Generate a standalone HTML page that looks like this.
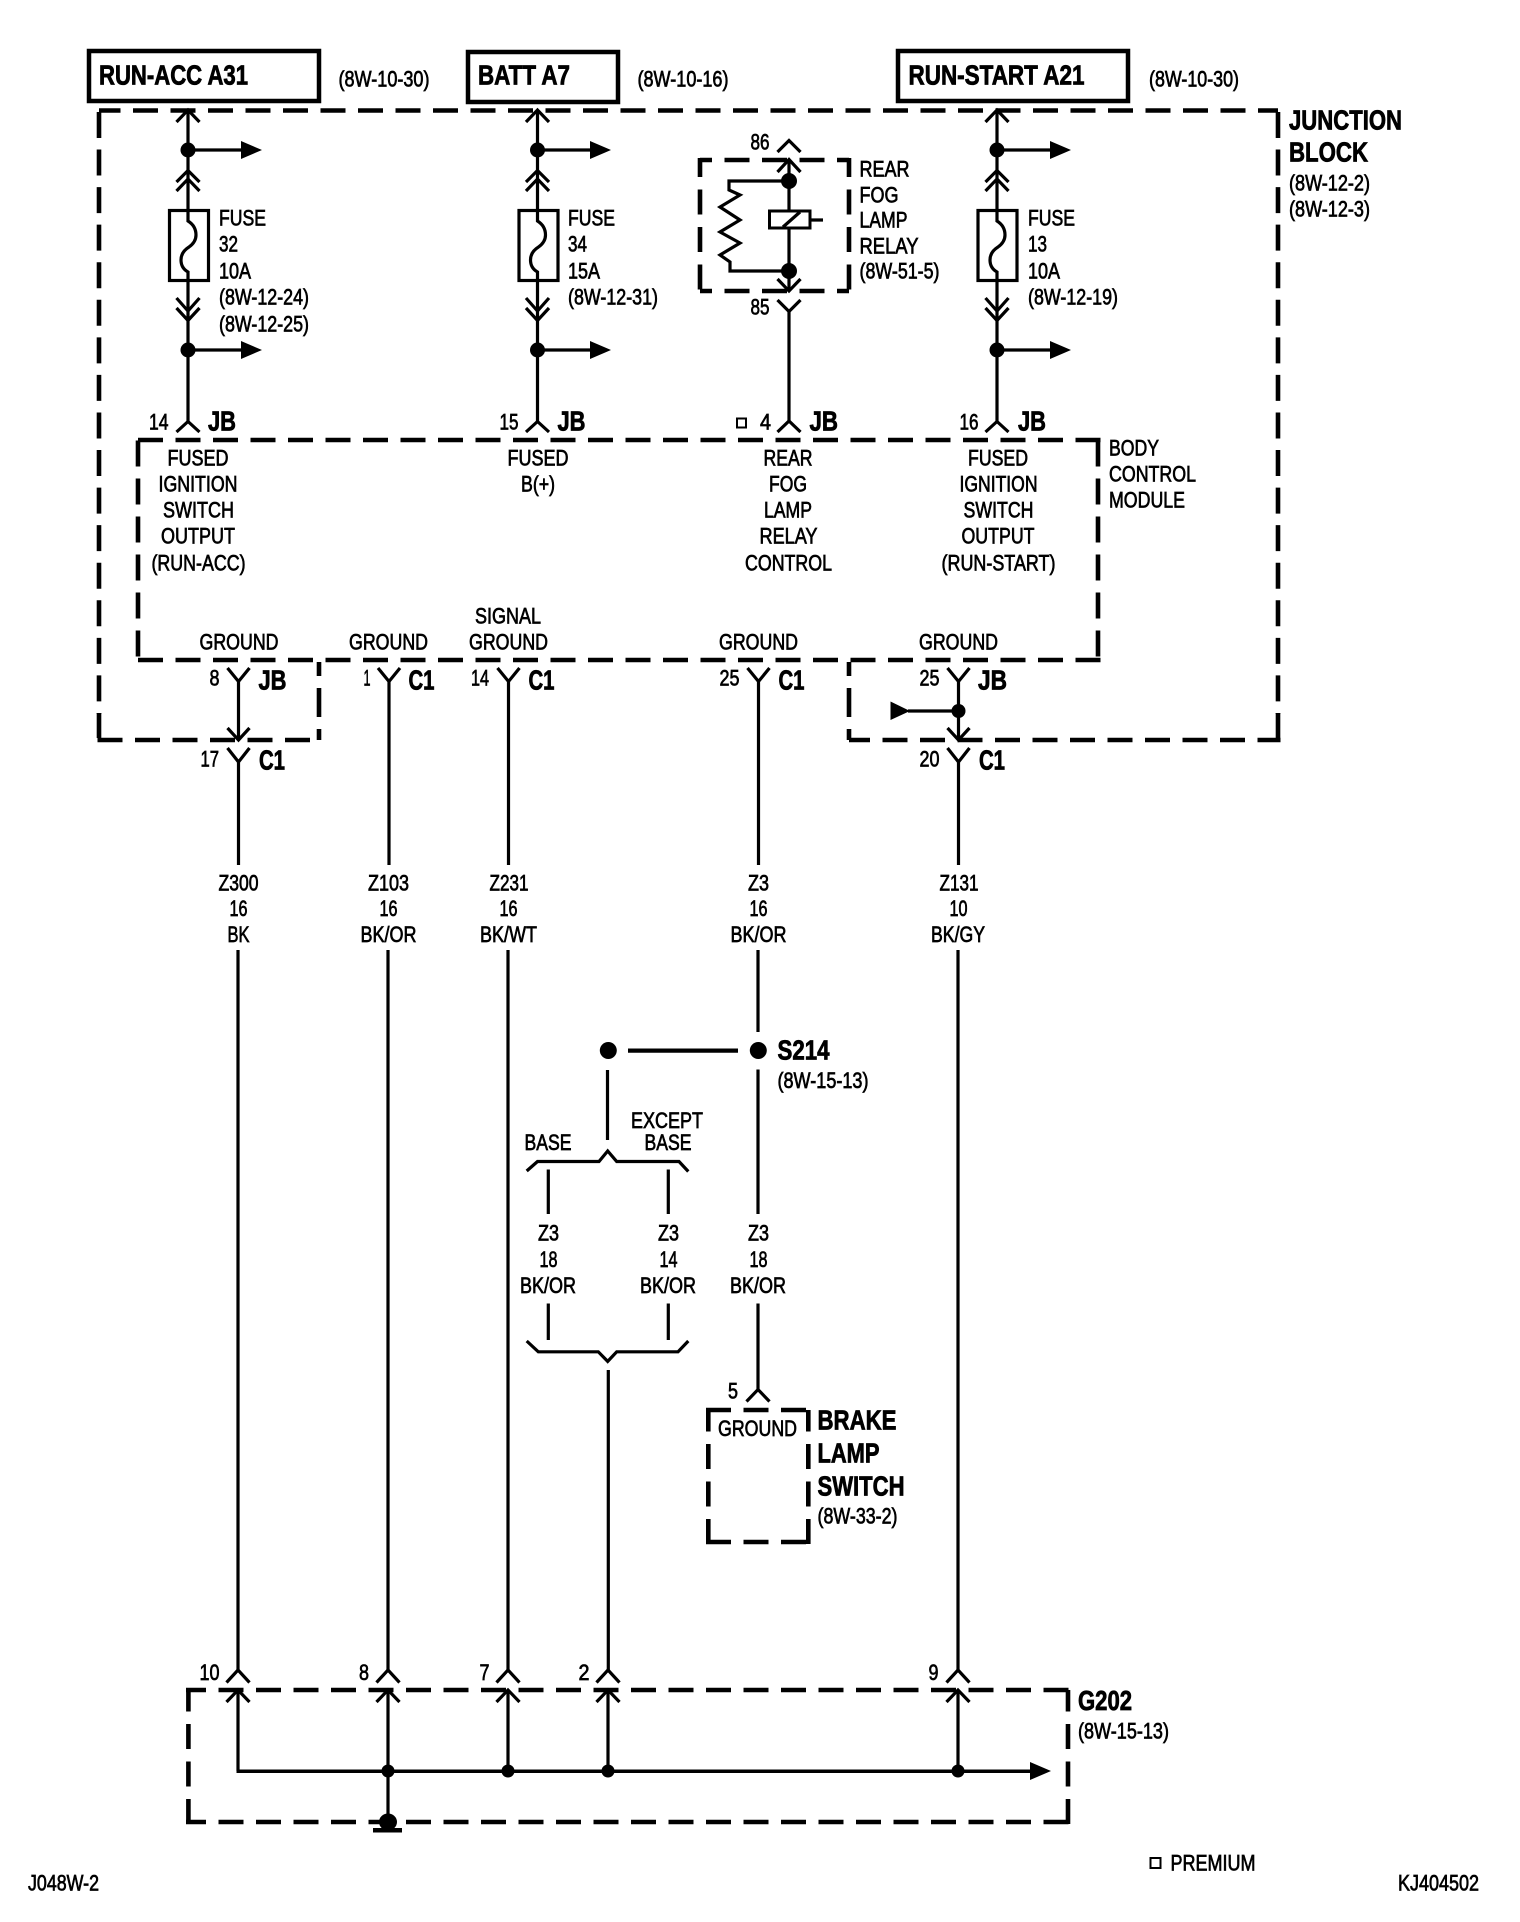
<!DOCTYPE html>
<html><head><meta charset="utf-8"><title>Wiring diagram</title>
<style>
html,body{margin:0;padding:0;background:#fff}
svg{display:block}
text{font-family:"Liberation Sans",sans-serif;font-size:22px;fill:#000;stroke:#000;stroke-width:.7px;transform:translateY(-.5px)}
text.b{font-weight:bold;font-size:28px;stroke-width:.8px}
.w{fill:none;stroke:#000;stroke-width:3.2}
.d{fill:none;stroke:#000;stroke-width:4.6;stroke-dasharray:25 12.5;stroke-linejoin:miter}
.r{fill:none;stroke:#000;stroke-width:4.5}
</style></head><body>
<svg width="1520" height="1922" viewBox="0 0 1520 1922" xmlns="http://www.w3.org/2000/svg">
<rect width="1520" height="1922" fill="#fff"/>

<!-- top boxes -->
<rect class="r" x="89" y="51" width="230" height="50"/>
<rect class="r" x="468" y="52" width="150" height="50"/>
<rect class="r" x="898" y="51" width="230" height="50"/>
<text class="b" x="99" y="85" textLength="149" lengthAdjust="spacingAndGlyphs">RUN-ACC A31</text>
<text class="b" x="478" y="85" textLength="92" lengthAdjust="spacingAndGlyphs">BATT A7</text>
<text class="b" x="908.5" y="85" textLength="176" lengthAdjust="spacingAndGlyphs">RUN-START A21</text>
<text x="338.5" y="87" textLength="91" lengthAdjust="spacingAndGlyphs">(8W-10-30)</text>
<text x="637.5" y="87" textLength="91" lengthAdjust="spacingAndGlyphs">(8W-10-16)</text>
<text x="1149" y="87" textLength="90" lengthAdjust="spacingAndGlyphs">(8W-10-30)</text>

<!-- junction block dashed outline -->
<path class="d" style="stroke-dashoffset:3.5" d="M99 110.5H1278"/>
<path class="d" style="stroke-dasharray:26 11.56" d="M99 112V714"/>
<path class="d" style="stroke-dasharray:26 11.56" d="M1278 112V714"/>
<path class="d" style="stroke-dashoffset:-1" d="M96.5 740H319"/>
<path class="d" style="stroke-dashoffset:4" d="M849 740H1280.5"/>
<path class="d" d="M99 713V740M1278 713V740"/>
<path class="d" style="stroke-dasharray:14 12 29 12" d="M319 662V740"/>
<path class="d" style="stroke-dasharray:14 12 29 12" d="M849 662V740"/>

<!-- BCM dashed outline -->
<path class="d" d="M138 440H1100.5"/>
<path class="d" d="M138 660H1100.5"/>
<path class="d" style="stroke-dasharray:26 12;stroke-dashoffset:-3" d="M138 437.5V662"/>
<path class="d" style="stroke-dasharray:26 12;stroke-dashoffset:-3" d="M1098 437.5V662"/>

<!-- column A -->
<g id="colA">
<path class="w" d="M188 110V210M188 281V422"/>
<path class="w" d="M176.5 122L188 110L199.5 122"/>
<path class="w" d="M176.5 182L188 170.5L199.5 182M176.5 191L188 179L199.5 191"/>
<path class="w" d="M176.5 298L188 311L199.5 298M176.5 308L188 320.5L199.5 308"/>
<path class="w" d="M176.5 432L188 421.5L199.5 432"/>
<circle cx="188" cy="150" r="7.5"/><circle cx="188" cy="350" r="7.5"/>
<path class="w" d="M188 150H242M188 350H242"/>
<path d="M241 141L262 150L241 159ZM241 341L262 350L241 359Z"/>
<rect class="w" x="169.5" y="210.5" width="39" height="70"/>
<path class="w" d="M188 210V221q8 5 8 14q0 7 -7 12q-8 5 -8 13q0 8 7 12V281"/>
</g>
<!-- column B -->
<g>
<path class="w" d="M537.5 110V210M537.5 281V422"/>
<path class="w" d="M526 122L537.5 110L549 122"/>
<path class="w" d="M526 182L537.5 170.5L549 182M526 191L537.5 179L549 191"/>
<path class="w" d="M526 298L537.5 311L549 298M526 308L537.5 320.5L549 308"/>
<path class="w" d="M526 432L537.5 421.5L549 432"/>
<circle cx="537.5" cy="150" r="7.5"/><circle cx="537.5" cy="350" r="7.5"/>
<path class="w" d="M537.5 150H591M537.5 350H591"/>
<path d="M590 141L611 150L590 159ZM590 341L611 350L590 359Z"/>
<rect class="w" x="519" y="210.5" width="39" height="70"/>
<path class="w" d="M537.5 210V221q8 5 8 14q0 7 -7 12q-8 5 -8 13q0 8 7 12V281"/>
</g>
<!-- column D -->
<g>
<path class="w" d="M997 110V210M997 281V422"/>
<path class="w" d="M985.5 122L997 110L1008.5 122"/>
<path class="w" d="M985.5 182L997 170.5L1008.5 182M985.5 191L997 179L1008.5 191"/>
<path class="w" d="M985.5 298L997 311L1008.5 298M985.5 308L997 320.5L1008.5 308"/>
<path class="w" d="M985.5 432L997 421.5L1008.5 432"/>
<circle cx="997" cy="150" r="7.5"/><circle cx="997" cy="350" r="7.5"/>
<path class="w" d="M997 150H1051M997 350H1051"/>
<path d="M1050 141L1071 150L1050 159ZM1050 341L1071 350L1050 359Z"/>
<rect class="w" x="978" y="210.5" width="39" height="70"/>
<path class="w" d="M997 210V221q8 5 8 14q0 7 -7 12q-8 5 -8 13q0 8 7 12V281"/>
</g>

<!-- fuse labels -->
<text x="219" y="226" textLength="47" lengthAdjust="spacingAndGlyphs">FUSE</text>
<text x="219" y="252" textLength="19" lengthAdjust="spacingAndGlyphs">32</text>
<text x="219" y="279" textLength="32" lengthAdjust="spacingAndGlyphs">10A</text>
<text x="219" y="305" textLength="90" lengthAdjust="spacingAndGlyphs">(8W-12-24)</text>
<text x="219" y="332" textLength="90" lengthAdjust="spacingAndGlyphs">(8W-12-25)</text>
<text x="568" y="226" textLength="47" lengthAdjust="spacingAndGlyphs">FUSE</text>
<text x="568" y="252" textLength="19" lengthAdjust="spacingAndGlyphs">34</text>
<text x="568" y="279" textLength="32" lengthAdjust="spacingAndGlyphs">15A</text>
<text x="568" y="305" textLength="90" lengthAdjust="spacingAndGlyphs">(8W-12-31)</text>
<text x="1028" y="226" textLength="47" lengthAdjust="spacingAndGlyphs">FUSE</text>
<text x="1028" y="252" textLength="19" lengthAdjust="spacingAndGlyphs">13</text>
<text x="1028" y="279" textLength="32" lengthAdjust="spacingAndGlyphs">10A</text>
<text x="1028" y="305" textLength="90" lengthAdjust="spacingAndGlyphs">(8W-12-19)</text>

<!-- relay -->
<path class="d" style="stroke-dashoffset:13" d="M700 160H849"/>
<path class="d" style="stroke-dashoffset:13" d="M700 291H849"/>
<path class="d" style="stroke-dashoffset:6" d="M700 158V293"/>
<path class="d" style="stroke-dashoffset:6" d="M849 158V293"/>
<path class="w" d="M777.5 152L789 140.5L800.5 152"/>
<path class="w" d="M777.5 172L789 159.5L800.5 172"/>
<path class="w" d="M789 160V290"/>
<path class="w" d="M777.5 279L789 291L800.5 279"/>
<path class="w" d="M777.5 300L789 311.5L800.5 300"/>
<path class="w" d="M789 311V422"/>
<path class="w" d="M777.5 432L789 421L800.5 432"/>
<circle cx="789" cy="181" r="8"/><circle cx="789" cy="271" r="8"/>
<path class="w" d="M789 181H729V190L740 195L720 207L740 220L720 232L740 243L720 255L730 262V271H789"/>
<rect x="769.5" y="211" width="40.5" height="17" fill="#fff" stroke="#000" stroke-width="3"/>
<path class="w" d="M783 227L800 212M810 220H823"/>
<text x="750.5" y="150" textLength="19" lengthAdjust="spacingAndGlyphs">86</text>
<text x="750.5" y="315" textLength="19" lengthAdjust="spacingAndGlyphs">85</text>
<text x="859.5" y="177" textLength="50" lengthAdjust="spacingAndGlyphs">REAR</text>
<text x="859.5" y="203" textLength="39" lengthAdjust="spacingAndGlyphs">FOG</text>
<text x="859.5" y="228" textLength="48" lengthAdjust="spacingAndGlyphs">LAMP</text>
<text x="859.5" y="254" textLength="59" lengthAdjust="spacingAndGlyphs">RELAY</text>
<text x="859.5" y="279" textLength="80" lengthAdjust="spacingAndGlyphs">(8W-51-5)</text>

<!-- junction block label -->
<text class="b" x="1289" y="130" textLength="113" lengthAdjust="spacingAndGlyphs">JUNCTION</text>
<text class="b" x="1289" y="162" textLength="79" lengthAdjust="spacingAndGlyphs">BLOCK</text>
<text x="1289" y="191" textLength="81" lengthAdjust="spacingAndGlyphs">(8W-12-2)</text>
<text x="1289" y="217" textLength="81" lengthAdjust="spacingAndGlyphs">(8W-12-3)</text>

<!-- JB pin labels -->
<text x="149" y="430" textLength="19.5" lengthAdjust="spacingAndGlyphs">14</text>
<text class="b" x="208" y="431" textLength="28" lengthAdjust="spacingAndGlyphs">JB</text>
<text x="499.5" y="430" textLength="19" lengthAdjust="spacingAndGlyphs">15</text>
<text class="b" x="557.5" y="431" textLength="28" lengthAdjust="spacingAndGlyphs">JB</text>
<rect x="737" y="418.5" width="9" height="9" fill="#fff" stroke="#000" stroke-width="2"/>
<text x="760" y="430" textLength="11" lengthAdjust="spacingAndGlyphs">4</text>
<text class="b" x="809.5" y="431" textLength="28.5" lengthAdjust="spacingAndGlyphs">JB</text>
<text x="959.5" y="430" textLength="19" lengthAdjust="spacingAndGlyphs">16</text>
<text class="b" x="1018" y="431" textLength="28" lengthAdjust="spacingAndGlyphs">JB</text>

<!-- BCM labels -->
<text x="167.5" y="466" textLength="61" lengthAdjust="spacingAndGlyphs">FUSED</text>
<text x="158.5" y="492" textLength="79" lengthAdjust="spacingAndGlyphs">IGNITION</text>
<text x="163" y="518" textLength="71" lengthAdjust="spacingAndGlyphs">SWITCH</text>
<text x="161" y="544" textLength="74" lengthAdjust="spacingAndGlyphs">OUTPUT</text>
<text x="151.5" y="571" textLength="94" lengthAdjust="spacingAndGlyphs">(RUN-ACC)</text>
<text x="507.5" y="466" textLength="61" lengthAdjust="spacingAndGlyphs">FUSED</text>
<text x="521" y="492" textLength="34" lengthAdjust="spacingAndGlyphs">B(+)</text>
<text x="763.5" y="466" textLength="49" lengthAdjust="spacingAndGlyphs">REAR</text>
<text x="769" y="492" textLength="38" lengthAdjust="spacingAndGlyphs">FOG</text>
<text x="764" y="518" textLength="48" lengthAdjust="spacingAndGlyphs">LAMP</text>
<text x="759.5" y="544" textLength="58" lengthAdjust="spacingAndGlyphs">RELAY</text>
<text x="745" y="571" textLength="87" lengthAdjust="spacingAndGlyphs">CONTROL</text>
<text x="968" y="466" textLength="60" lengthAdjust="spacingAndGlyphs">FUSED</text>
<text x="959.5" y="492" textLength="78" lengthAdjust="spacingAndGlyphs">IGNITION</text>
<text x="963.5" y="518" textLength="70" lengthAdjust="spacingAndGlyphs">SWITCH</text>
<text x="961.5" y="544" textLength="73" lengthAdjust="spacingAndGlyphs">OUTPUT</text>
<text x="941.5" y="571" textLength="114" lengthAdjust="spacingAndGlyphs">(RUN-START)</text>
<text x="1109" y="456" textLength="50" lengthAdjust="spacingAndGlyphs">BODY</text>
<text x="1109" y="482" textLength="87" lengthAdjust="spacingAndGlyphs">CONTROL</text>
<text x="1109" y="508" textLength="76" lengthAdjust="spacingAndGlyphs">MODULE</text>
<text x="199.5" y="650" textLength="79" lengthAdjust="spacingAndGlyphs">GROUND</text>
<text x="349" y="650" textLength="79" lengthAdjust="spacingAndGlyphs">GROUND</text>
<text x="475" y="624" textLength="66" lengthAdjust="spacingAndGlyphs">SIGNAL</text>
<text x="469" y="650" textLength="79" lengthAdjust="spacingAndGlyphs">GROUND</text>
<text x="719" y="650" textLength="79" lengthAdjust="spacingAndGlyphs">GROUND</text>
<text x="919" y="650" textLength="79" lengthAdjust="spacingAndGlyphs">GROUND</text>

<!-- lower connectors -->
<path class="w" d="M227.5 668L238.5 681.5L249.5 668M227.5 728L238.5 740L249.5 728M227.5 748L238.5 762L249.5 748M238.5 681V740M238.5 762V865"/>
<path class="w" d="M378 668L389 681.5L400 668M389 681V865"/>
<path class="w" d="M497.5 668L508.5 681.5L519.5 668M508.5 681V865"/>
<path class="w" d="M747.5 668L758.5 681.5L769.5 668M758.5 681V865"/>
<path class="w" d="M947.5 668L958.5 681.5L969.5 668M947.5 728L958.5 740L969.5 728M947.5 748L958.5 762L969.5 748M958.5 681V740M958.5 762V865"/>
<circle cx="958.5" cy="711" r="7"/>
<path class="w" d="M908 711H958"/>
<path d="M890.5 701.5L910 711L890.5 720Z"/>

<text x="209.5" y="686" textLength="10" lengthAdjust="spacingAndGlyphs">8</text>
<text class="b" x="258.5" y="690" textLength="28" lengthAdjust="spacingAndGlyphs">JB</text>
<text x="363.5" y="686" textLength="7" lengthAdjust="spacingAndGlyphs">1</text>
<text class="b" x="408.5" y="690" textLength="26" lengthAdjust="spacingAndGlyphs">C1</text>
<text x="471" y="686" textLength="18" lengthAdjust="spacingAndGlyphs">14</text>
<text class="b" x="528.5" y="690" textLength="26" lengthAdjust="spacingAndGlyphs">C1</text>
<text x="719.5" y="686" textLength="20" lengthAdjust="spacingAndGlyphs">25</text>
<text class="b" x="778.5" y="690" textLength="26" lengthAdjust="spacingAndGlyphs">C1</text>
<text x="919.5" y="686" textLength="20" lengthAdjust="spacingAndGlyphs">25</text>
<text class="b" x="978" y="690" textLength="29" lengthAdjust="spacingAndGlyphs">JB</text>
<text x="200.5" y="767" textLength="18.5" lengthAdjust="spacingAndGlyphs">17</text>
<text class="b" x="259" y="770" textLength="26" lengthAdjust="spacingAndGlyphs">C1</text>
<text x="919.5" y="767" textLength="20" lengthAdjust="spacingAndGlyphs">20</text>
<text class="b" x="979" y="770" textLength="26" lengthAdjust="spacingAndGlyphs">C1</text>

<!-- wire labels -->
<text x="218.5" y="891" textLength="40" lengthAdjust="spacingAndGlyphs">Z300</text>
<text x="229.5" y="916.5" textLength="18" lengthAdjust="spacingAndGlyphs">16</text>
<text x="227.5" y="942.5" textLength="22" lengthAdjust="spacingAndGlyphs">BK</text>
<text x="368" y="891" textLength="41" lengthAdjust="spacingAndGlyphs">Z103</text>
<text x="379.5" y="916.5" textLength="18" lengthAdjust="spacingAndGlyphs">16</text>
<text x="360.5" y="942.5" textLength="56" lengthAdjust="spacingAndGlyphs">BK/OR</text>
<text x="489.5" y="891" textLength="39" lengthAdjust="spacingAndGlyphs">Z231</text>
<text x="499.5" y="916.5" textLength="18" lengthAdjust="spacingAndGlyphs">16</text>
<text x="480" y="942.5" textLength="57" lengthAdjust="spacingAndGlyphs">BK/WT</text>
<text x="748" y="891" textLength="21" lengthAdjust="spacingAndGlyphs">Z3</text>
<text x="749.5" y="916.5" textLength="18" lengthAdjust="spacingAndGlyphs">16</text>
<text x="730.5" y="942.5" textLength="56" lengthAdjust="spacingAndGlyphs">BK/OR</text>
<text x="939.5" y="891" textLength="39" lengthAdjust="spacingAndGlyphs">Z131</text>
<text x="949.5" y="916.5" textLength="18" lengthAdjust="spacingAndGlyphs">10</text>
<text x="931" y="942.5" textLength="54" lengthAdjust="spacingAndGlyphs">BK/GY</text>

<!-- long wires -->
<path class="w" d="M238 950V1670M388 950V1670M508 950V1670M958 950V1670"/>

<!-- S214 -->
<path class="w" d="M758 950V1032M758 1069.5V1214M607.5 1070V1140M758 1303.5V1389"/>
<circle cx="758.3" cy="1050.5" r="8.5"/><circle cx="608.3" cy="1050.5" r="8.5"/>
<path d="M628 1048.5H738V1052.8H628Z"/>
<text class="b" x="777.5" y="1060" textLength="52" lengthAdjust="spacingAndGlyphs">S214</text>
<text x="777.5" y="1088.5" textLength="91" lengthAdjust="spacingAndGlyphs">(8W-15-13)</text>
<text x="631" y="1128.5" textLength="72" lengthAdjust="spacingAndGlyphs">EXCEPT</text>
<text x="644.5" y="1150.5" textLength="47" lengthAdjust="spacingAndGlyphs">BASE</text>
<text x="524.5" y="1150.5" textLength="47" lengthAdjust="spacingAndGlyphs">BASE</text>
<path class="w" d="M526.7 1171L537.5 1161.5H599L607.7 1151L616.7 1161.5H679L688.3 1171.5"/>
<path class="w" d="M548.3 1169.5V1214M668.3 1169.5V1214M548.3 1303.5V1340M668.3 1303.5V1340"/>
<path class="w" d="M526.7 1341L538.3 1351.8H598.3L607.7 1361.4L616.7 1351.8H678L688.3 1341"/>
<path class="w" d="M608.3 1370V1670"/>
<text x="538" y="1241" textLength="21" lengthAdjust="spacingAndGlyphs">Z3</text>
<text x="539.5" y="1267.5" textLength="18" lengthAdjust="spacingAndGlyphs">18</text>
<text x="520" y="1293.5" textLength="56" lengthAdjust="spacingAndGlyphs">BK/OR</text>
<text x="658" y="1241" textLength="21" lengthAdjust="spacingAndGlyphs">Z3</text>
<text x="659.5" y="1267.5" textLength="18" lengthAdjust="spacingAndGlyphs">14</text>
<text x="640" y="1293.5" textLength="56" lengthAdjust="spacingAndGlyphs">BK/OR</text>
<text x="748" y="1241" textLength="21" lengthAdjust="spacingAndGlyphs">Z3</text>
<text x="749.5" y="1267.5" textLength="18" lengthAdjust="spacingAndGlyphs">18</text>
<text x="730" y="1293.5" textLength="56" lengthAdjust="spacingAndGlyphs">BK/OR</text>

<!-- brake lamp switch -->
<path class="w" d="M746.5 1401.5L758 1389.5L769.5 1401.5"/>
<path class="d" d="M706 1410H810.5"/>
<path class="d" d="M706 1542H810.5"/>
<path class="d" style="stroke-dashoffset:3.5" d="M708.3 1410V1544.5"/>
<path class="d" style="stroke-dashoffset:3.5" d="M808.3 1410V1544.5"/>
<text x="728" y="1399" textLength="10" lengthAdjust="spacingAndGlyphs">5</text>
<text x="718" y="1436.5" textLength="79" lengthAdjust="spacingAndGlyphs">GROUND</text>
<text class="b" x="817.5" y="1430" textLength="79" lengthAdjust="spacingAndGlyphs">BRAKE</text>
<text class="b" x="817.5" y="1463" textLength="62" lengthAdjust="spacingAndGlyphs">LAMP</text>
<text class="b" x="817.5" y="1496" textLength="87" lengthAdjust="spacingAndGlyphs">SWITCH</text>
<text x="817.5" y="1524" textLength="80" lengthAdjust="spacingAndGlyphs">(8W-33-2)</text>

<!-- G202 -->
<path class="d" style="stroke-dashoffset:5" d="M186 1690H1070.5"/>
<path class="d" style="stroke-dashoffset:5" d="M186 1822H1070.5"/>
<path class="d" style="stroke-dashoffset:3.5" d="M188.4 1690V1824.5"/>
<path class="d" style="stroke-dashoffset:3.5" d="M1068 1690V1824.5"/>
<path class="w" d="M226.5 1682.5L238 1670L249.5 1682.5M376.5 1682.5L388 1670L399.5 1682.5M496.5 1682.5L508 1670L519.5 1682.5M596.5 1682.5L608 1670L619.5 1682.5M946.5 1682.5L958 1670L969.5 1682.5"/>
<path class="w" d="M226.5 1702L238 1690L249.5 1702M376.5 1702L388 1690L399.5 1702M496.5 1702L508 1690L519.5 1702M596.5 1702L608 1690L619.5 1702M946.5 1702L958 1690L969.5 1702"/>
<path class="w" d="M238 1690V1771M388 1690V1822M508 1690V1771M608 1690V1771M958 1690V1771"/>
<path d="M236.5 1769.5H1032V1773H236.5Z"/>
<path d="M1030 1762L1051 1771L1030 1780Z"/>
<circle cx="388" cy="1771" r="6.5"/><circle cx="508" cy="1771" r="6.5"/><circle cx="608" cy="1771" r="6.5"/><circle cx="958" cy="1771" r="6.5"/>
<ellipse cx="388" cy="1822" rx="9" ry="8.5"/>
<rect x="373" y="1828" width="29" height="4.5"/>
<text x="199.5" y="1680.5" textLength="20" lengthAdjust="spacingAndGlyphs">10</text>
<text x="359" y="1680.5" textLength="10" lengthAdjust="spacingAndGlyphs">8</text>
<text x="479.5" y="1680.5" textLength="10" lengthAdjust="spacingAndGlyphs">7</text>
<text x="578.5" y="1680.5" textLength="11" lengthAdjust="spacingAndGlyphs">2</text>
<text x="928.5" y="1680.5" textLength="10" lengthAdjust="spacingAndGlyphs">9</text>
<text class="b" x="1078" y="1710.5" textLength="54" lengthAdjust="spacingAndGlyphs">G202</text>
<text x="1078" y="1739" textLength="91" lengthAdjust="spacingAndGlyphs">(8W-15-13)</text>

<!-- legend -->
<rect x="1150.5" y="1858" width="10" height="10" fill="#fff" stroke="#000" stroke-width="2"/>
<text x="1170.5" y="1871" textLength="85" lengthAdjust="spacingAndGlyphs">PREMIUM</text>
<text x="28" y="1891" textLength="71" lengthAdjust="spacingAndGlyphs">J048W-2</text>
<text x="1398" y="1891" textLength="81" lengthAdjust="spacingAndGlyphs">KJ404502</text>
</svg>
</body></html>
